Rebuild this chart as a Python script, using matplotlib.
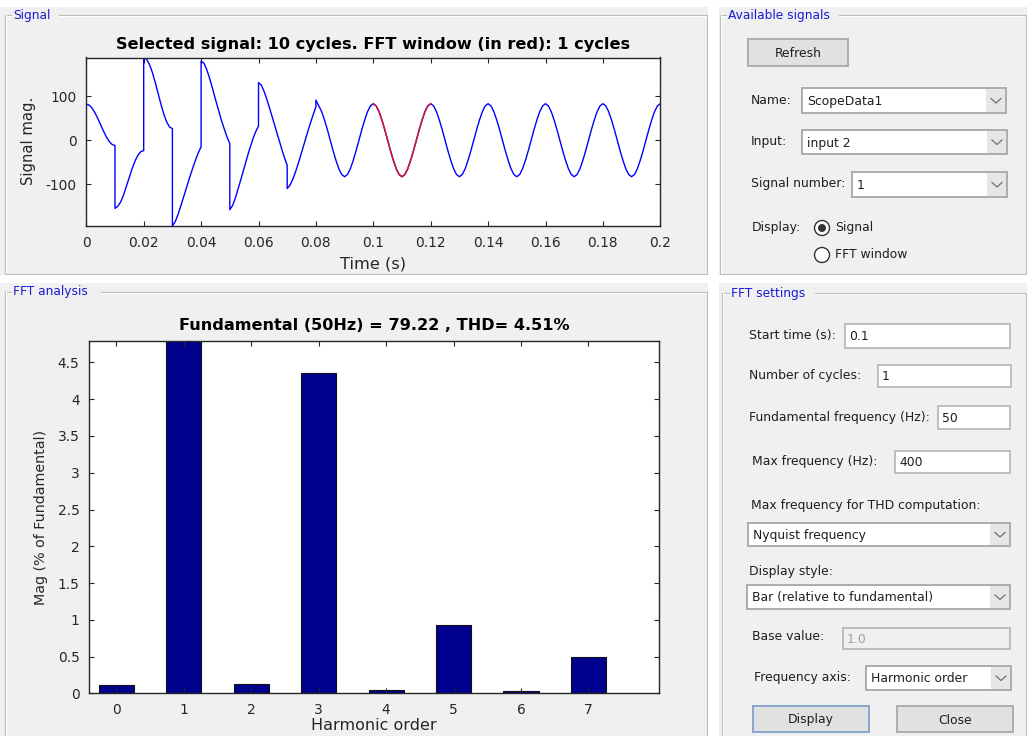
import numpy as np
import matplotlib
matplotlib.use('Agg')
import matplotlib.pyplot as plt
from matplotlib.patches import Rectangle, Circle

# the screenshot is a bit wide; DejaVu Sans matches its letter proportions best
plt.rcParams['font.family'] = ['DejaVu Sans']
plt.rcParams['axes.unicode_minus'] = False

# ---- data ----
# transient part: one list per 10 ms segment, sampled every 1 ms (t0 .. t0+0.01)
segment_starts = [0.00, 0.01, 0.02, 0.03, 0.04, 0.05, 0.06, 0.07]
transient_vals = [
    [82, 79.7, 73, 62.6, 49.5, 35, 20.5, 7.4, -3, -9.7, -12],
    [-155, -150, -140, -124, -104, -84, -64, -47, -34, -26, -23.6],
    [188, 184, 172.5, 154.6, 132, 107, 82, 59.4, 41.5, 30, 26.4],
    [-195, -185, -168, -148, -127, -106, -85, -65, -46, -29, -15],
    [179.5, 175, 160, 140, 117, 93, 70, 47, 27, 8, -8],
    [-158, -148, -130, -108, -86, -63, -40, -18, 2, 19, 32.5],
    [131, 125, 110, 91, 70, 48, 26, 4, -18, -39, -57],
    [-110, -102, -88, -70, -50, -28, -6, 16, 37, 57, 75.7],
]
# steady part from 0.08 s to 0.2 s, every 1 ms
steady_start = 0.08
steady_vals = [
    91, 78, 65, 46, 24, 0, -24, -46, -65, -78, -83, -78, -65, -46, -24, 0, 24, 46, 65, 78,
    83, 78, 65, 46, 24, 0, -24, -46, -65, -78, -83, -78, -65, -46, -24, 0, 24, 46, 65, 78,
    83, 78, 65, 46, 24, 0, -24, -46, -65, -78, -83, -78, -65, -46, -24, 0, 24, 46, 65, 78,
    83, 78, 65, 46, 24, 0, -24, -46, -65, -78, -83, -78, -65, -46, -24, 0, 24, 46, 65, 78,
    83, 78, 65, 46, 24, 0, -24, -46, -65, -78, -83, -78, -65, -46, -24, 0, 24, 46, 65, 78,
    83, 78, 65, 46, 24, 0, -24, -46, -65, -78, -83, -78, -65, -46, -24, 0, 24, 46, 65, 78,
    83,
]
sample_step = 0.001

fft_start = 0.1
fft_cycles = 1
f0 = 50

harmonic_order = [0, 1, 2, 3, 4, 5, 6, 7]
harmonic_mag = [0.11, 100.0, 0.12, 4.36, 0.05, 0.93, 0.03, 0.49]

# build the time series
sig_t, sig_v = [], []
for t0, vals in zip(segment_starts, transient_vals):
    for k, v in enumerate(vals):
        sig_t.append(t0 + k * sample_step)
        sig_v.append(v)
for k, v in enumerate(steady_vals):
    sig_t.append(steady_start + k * sample_step)
    sig_v.append(v)
sig_t = np.round(np.array(sig_t), 6)
sig_v = np.array(sig_v, dtype=float)

W, H = 1027, 736
fig = plt.figure(figsize=(W / 100, H / 100), dpi=100)
fig.patch.set_facecolor('white')

# background axes in pixel coordinates (y down)
bg = fig.add_axes([0, 0, 1, 1])
bg.set_xlim(0, W)
bg.set_ylim(H, 0)
bg.axis('off')
bg.set_zorder(0)

PANEL = '#f0f0f0'
TITLE_BLUE = '#1a1ad2'
TXT = '#1e1e1e'
FS = 8.9


def box(x0, y0, x1, y1, fc, ec='none', lw=1.0, z=1):
    bg.add_patch(Rectangle((x0, y0), x1 - x0, y1 - y0, facecolor=fc,
                           edgecolor=ec, linewidth=lw, zorder=z))


def etched(xs, ys):
    bg.plot(xs, ys, color='#b8b8b8', lw=0.8, zorder=2)
    if xs[0] == xs[1]:
        bg.plot([xs[0] + 1, xs[1] + 1], ys, color='white', lw=0.8, zorder=2)
    else:
        bg.plot(xs, [ys[0] + 1, ys[1] + 1], color='white', lw=0.8, zorder=2)


def panel(x0, y0, x1, y1, title, gap0, gap1):
    etched([x0, gap0], [y0, y0])
    etched([gap1, x1], [y0, y0])
    etched([x0, x0], [y0, y1])
    etched([x1, x1], [y0, y1])
    etched([x0, x1], [y1, y1])
    bg.text(gap0 + 2, y0, title, color=TITLE_BLUE, fontsize=8.8, va='center', ha='left', zorder=3)


def label(x, y, s, color=TXT):
    bg.text(x, y, s, fontsize=FS, color=color, va='center', ha='left', zorder=3)


def textbox(x0, y0, x1, y1, s, disabled=False):
    box(x0, y0, x1, y1, '#f0f0f0' if disabled else 'white', '#b4b4b4', 1.2, 2)
    label(x0 + 4, (y0 + y1) / 2 + 1, s, color='#a0a0a0' if disabled else TXT)


def dropdown(x0, y0, x1, y1, s):
    box(x0, y0, x1, y1, 'white', '#acacac', 1.4, 2)
    box(x1 - 20, y0 + 1, x1 - 1, y1 - 1, '#e6e6e6', z=2)
    cx, cy = x1 - 10, (y0 + y1) / 2
    bg.plot([cx - 5, cx, cx + 5], [cy - 2, cy + 2.5, cy - 2], color='#707070', lw=0.9, zorder=3)
    label(x0 + 5, cy + 1, s)


def button(x0, y0, x1, y1, s, ec='#adadad'):
    box(x0, y0, x1, y1, '#e1e1e1', ec, 1.4, 2)
    bg.text((x0 + x1) / 2, (y0 + y1) / 2 + 1, s, fontsize=FS, color=TXT,
            ha='center', va='center', zorder=3)


def radio(cx, cy, s, on):
    bg.add_patch(Circle((cx, cy), 7.5, facecolor='white', edgecolor='#333333', lw=1.0, zorder=2))
    if on:
        bg.add_patch(Circle((cx, cy), 4, facecolor='#333333', edgecolor='none', zorder=3))
    label(cx + 13, cy, s)


# panel backgrounds
box(0, 7, 708, 275, PANEL)
box(719, 7, W, 275, PANEL)
box(0, 283, 708, H, PANEL)
box(719, 283, W, H, PANEL)

panel(5, 15, 707, 274, 'Signal', 11, 59)
panel(720, 15, 1026, 274, 'Available signals', 726, 839)
panel(5, 292, 707, 745, 'FFT analysis', 11, 101)
panel(722, 293, 1026, 745, 'FFT settings', 729, 815)

# available signals widgets
button(748, 39, 848, 66, 'Refresh')
label(751, 100, 'Name:')
dropdown(802, 88, 1006, 113, 'ScopeData1')
label(751, 142, 'Input:')
dropdown(802, 130, 1007, 154, 'input 2')
label(751, 184, 'Signal number:')
dropdown(852, 172, 1007, 197, '1')
label(752, 228, 'Display:')
radio(822, 228, 'Signal', True)
radio(822, 255, 'FFT window', False)

# FFT settings widgets
label(749, 336, 'Start time (s):')
textbox(845, 324, 1010, 348, f'{fft_start:g}')
label(749, 376, 'Number of cycles:')
textbox(878, 365, 1011, 387, f'{fft_cycles}')
label(749, 418, 'Fundamental frequency (Hz):')
textbox(938, 406, 1010, 429, f'{f0}')
label(752, 461, 'Max frequency (Hz):')
textbox(895, 451, 1010, 473, '400')
label(751, 506, 'Max frequency for THD computation:')
dropdown(748, 523, 1010, 546, 'Nyquist frequency')
label(749, 572, 'Display style:')
dropdown(747, 585, 1010, 609, 'Bar (relative to fundamental)')
label(752, 637, 'Base value:')
textbox(843, 628, 1010, 649, '1.0', disabled=True)
label(754, 678, 'Frequency axis:')
dropdown(866, 666, 1011, 690, 'Harmonic order')
button(753, 706, 869, 732, 'Display', ec='#8aa6cf')
button(897, 706, 1013, 732, 'Close')

AX = '#262626'


def style_axes(ax):
    ax.set_facecolor('white')
    for sp in ax.spines.values():
        sp.set_color(AX)
        sp.set_linewidth(1.0)
    ax.tick_params(direction='in', top=True, right=True, length=3.8, width=0.8,
                   colors=AX, labelsize=9.9, pad=7)


def px_axes(x0, y0, x1, y1):
    return fig.add_axes([x0 / W, 1 - y1 / H, (x1 - x0) / W, (y1 - y0) / H])


# ---- signal plot ----
ax1 = px_axes(86.3, 57.5, 660.3, 226)
ax1.set_zorder(1)
style_axes(ax1)
ax1.plot(sig_t, sig_v, color='#0000ff', lw=1.0)
win = (sig_t >= fft_start) & (sig_t <= fft_start + fft_cycles / f0 + 1e-9)
ax1.plot(sig_t[win], sig_v[win], color='#d6143c', lw=1.1)
ax1.set_xlim(0, 0.2)
ax1.set_ylim(sig_v.min(), sig_v.max())
xt = np.round(np.arange(0, 0.2001, 0.02), 2)
ax1.set_xticks(xt)
ax1.set_xticklabels([f'{v:g}' for v in xt])
ax1.set_yticks([-100, 0, 100])
fig.text(373 / W, 1 - 44 / H, 'Selected signal: 10 cycles. FFT window (in red): 1 cycles',
         ha='center', va='center', fontsize=11.6, fontweight='bold', color='black')
fig.text(373 / W, 1 - 264 / H, 'Time (s)', ha='center', va='center', fontsize=11.7, color=AX)
fig.text(29 / W, 1 - 141 / H, 'Signal mag.', ha='center', va='center', rotation=90,
         fontsize=10.6, color=AX)

# ---- FFT bar plot ----
ax2 = px_axes(89.3, 340.7, 659.3, 693.3)
ax2.set_zorder(1)
style_axes(ax2)
ax2.bar(harmonic_order, harmonic_mag, width=0.52, color='#00008f', edgecolor='#111111', linewidth=0.8)
ax2.set_xlim(-0.4, 8.05)
top = 1.1 * max(m for h, m in zip(harmonic_order, harmonic_mag) if h != 1)
ax2.set_ylim(0, top)
ax2.set_xticks(harmonic_order)
yt = np.arange(0, 4.51, 0.5)
ax2.set_yticks(yt)
ax2.set_yticklabels([f'{v:g}' for v in yt])
thd = 4.51
fig.text(374 / W, 1 - 326 / H, f'Fundamental ({f0}Hz) = 79.22 , THD= {thd:.2f}%',
         ha='center', va='center', fontsize=11.6, fontweight='bold', color='black')
fig.text(374 / W, 1 - 730.5 / H, 'Harmonic order', ha='center', va='baseline', fontsize=11.5, color=AX)
fig.text(41 / W, 1 - 517 / H, 'Mag (% of Fundamental)', ha='center', va='center', rotation=90,
         fontsize=10.3, color=AX)

fig.savefig('out.png', dpi=100, facecolor=fig.get_facecolor())
